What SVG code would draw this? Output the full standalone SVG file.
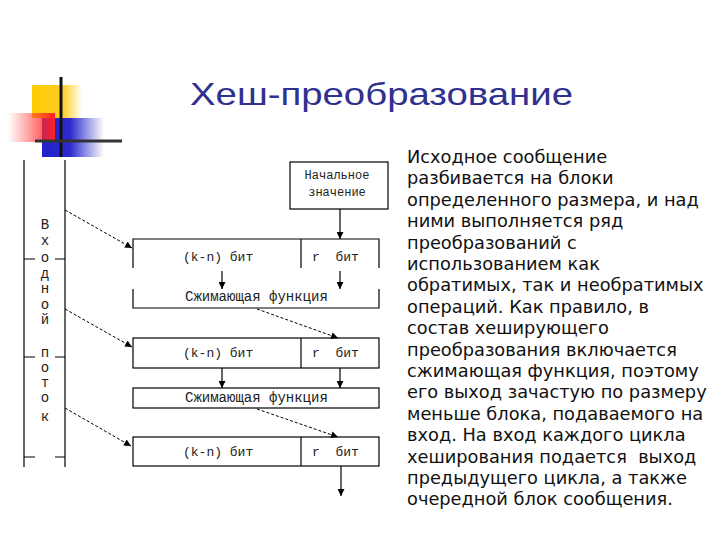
<svg xmlns="http://www.w3.org/2000/svg" width="720" height="540" viewBox="0 0 720 540">
<defs>
<linearGradient id="gy" x1="0" x2="1" y1="0" y2="0"><stop offset="0" stop-color="#ffcc00"/><stop offset="0.6" stop-color="#ffcc22"/><stop offset="1" stop-color="#ffcc00" stop-opacity="0"/></linearGradient>
<linearGradient id="gr" x1="0" x2="1" y1="0" y2="0"><stop offset="0" stop-color="#ff3333" stop-opacity="0"/><stop offset="1" stop-color="#ff2222"/></linearGradient>
<linearGradient id="gb" x1="0" x2="1" y1="0" y2="0"><stop offset="0" stop-color="#2222cc"/><stop offset="0.45" stop-color="#2a2acc"/><stop offset="1" stop-color="#3333cc" stop-opacity="0"/></linearGradient>
<marker id="ah" viewBox="0 0 10 10" refX="10" refY="5" markerWidth="7" markerHeight="7" orient="auto-start-reverse" markerUnits="userSpaceOnUse"><path d="M0,0 L10,5 L0,10 z" fill="#000"/></marker>
</defs>
<style>
.ln{stroke:#000;stroke-width:1.2;fill:none}
.bx{stroke:#000;stroke-width:1.2;fill:#fff}
.ar{stroke:#000;stroke-width:1.2;fill:none;marker-end:url(#ah)}
.da{stroke:#000;stroke-width:1;fill:none;stroke-dasharray:3 2;marker-end:url(#ah)}
.m{font-family:"Liberation Mono","DejaVu Sans Mono",monospace;fill:#222}
.t{font-family:"DejaVu Sans",Verdana,sans-serif;font-size:17.8px;fill:#111}
</style>
<rect width="720" height="540" fill="#fff"/>
<g id="logo">
<rect x="32" y="85" width="50" height="33" fill="url(#gy)"/>
<rect x="42" y="118" width="62" height="39" fill="url(#gb)"/>
<rect x="8" y="113" width="47" height="29" fill="url(#gr)"/>
<line x1="61" y1="77" x2="61" y2="157" stroke="#111" stroke-width="3"/>
<line x1="35" y1="141" x2="122" y2="141" stroke="#333" stroke-width="3"/>
</g>
<g id="title"><text x="190" y="105" font-family="Liberation Sans, Arial, sans-serif" font-size="32" fill="#303090" textLength="383" lengthAdjust="spacingAndGlyphs">Хеш-преобразование</text></g>
<g id="input">
<line class="ln" x1="24" y1="160" x2="24" y2="467"/>
<line class="ln" x1="65" y1="160" x2="65" y2="467"/>
<path class="ln" d="M24,259 H35 M55,259 H65 M24,357 H35 M55,357 H65 M24,457 H35 M55,457 H65"/>
<g class="m" font-size="14" text-anchor="middle">
<text x="45" y="229">В</text><text x="45" y="245">х</text><text x="45" y="262">о</text><text x="45" y="278">д</text><text x="45" y="293">н</text><text x="45" y="309">о</text><text x="45" y="324">й</text>
<text x="45" y="357">п</text><text x="45" y="372">о</text><text x="45" y="387">т</text><text x="45" y="402">о</text><text x="45" y="421">к</text>
</g>
</g>
<g id="init">
<rect class="bx" x="290" y="162" width="98" height="47"/>
<text class="m" font-size="12" x="337" y="179" text-anchor="middle">Начальное</text>
<text class="m" font-size="12" x="337" y="196" text-anchor="middle">значение</text>
</g>
<g id="round1">
<path class="ln" d="M133,268 V239 H379 V268 M301,239 V268 M133,289 V308 H379 V289"/>
<text class="m" font-size="13" x="183" y="261">(k-n) бит</text>
<text class="m" font-size="13" x="312" y="261" xml:space="preserve">r  бит</text>
<text class="m" font-size="14" x="185" y="301">Сжимающая функция</text>
</g>
<g id="round2">
<rect class="bx" x="133" y="338" width="246" height="30"/>
<line class="ln" x1="301" y1="338" x2="301" y2="368"/>
<text class="m" font-size="13" x="183" y="357">(k-n) бит</text>
<text class="m" font-size="13" x="312" y="357" xml:space="preserve">r  бит</text>
<rect class="bx" x="133" y="388" width="246" height="20"/>
<text class="m" font-size="14" x="185" y="402">Сжимающая функция</text>
</g>
<g id="round3">
<rect class="bx" x="133" y="437" width="246" height="29"/>
<line class="ln" x1="301" y1="437" x2="301" y2="466"/>
<text class="m" font-size="13" x="183" y="456">(k-n) бит</text>
<text class="m" font-size="13" x="312" y="456" xml:space="preserve">r  бит</text>
</g>
<g id="connectors">
<line class="ar" x1="340" y1="209" x2="340" y2="239"/>
<line class="ar" x1="222" y1="271" x2="222" y2="289"/>
<line class="ar" x1="340" y1="271" x2="340" y2="289"/>
<line class="ar" x1="222" y1="368" x2="222" y2="388"/>
<line class="ar" x1="340" y1="368" x2="340" y2="388"/>
<line class="ar" x1="341" y1="466" x2="341" y2="496"/>
<line class="da" x1="65" y1="210" x2="132" y2="248"/>
<line class="da" x1="65" y1="309" x2="132" y2="347"/>
<line class="da" x1="65" y1="408" x2="131" y2="446"/>
<line class="da" x1="257" y1="309" x2="338" y2="338"/>
<line class="da" x1="257" y1="409" x2="338" y2="437"/>
</g>
<g id="desc" class="t">
<text x="407" y="163">Исходное сообщение</text>
<text x="407" y="184.4">разбивается на блоки</text>
<text x="407" y="205.8">определенного размера, и над</text>
<text x="407" y="227.2">ними выполняется ряд</text>
<text x="407" y="248.6">преобразований с</text>
<text x="407" y="270">использованием как</text>
<text x="407" y="291.4">обратимых, так и необратимых</text>
<text x="407" y="312.8">операций. Как правило, в</text>
<text x="407" y="334.2">состав хеширующего</text>
<text x="407" y="355.6">преобразования включается</text>
<text x="407" y="377">сжимающая функция, поэтому</text>
<text x="407" y="398.4">его выход зачастую по размеру</text>
<text x="407" y="419.8">меньше блока, подаваемого на</text>
<text x="407" y="441.2">вход. На вход каждого цикла</text>
<text x="407" y="462.6" xml:space="preserve">хеширования подается  выход</text>
<text x="407" y="484">предыдущего цикла, а также</text>
<text x="407" y="505.4">очередной блок сообщения.</text>
</g>
</svg>
